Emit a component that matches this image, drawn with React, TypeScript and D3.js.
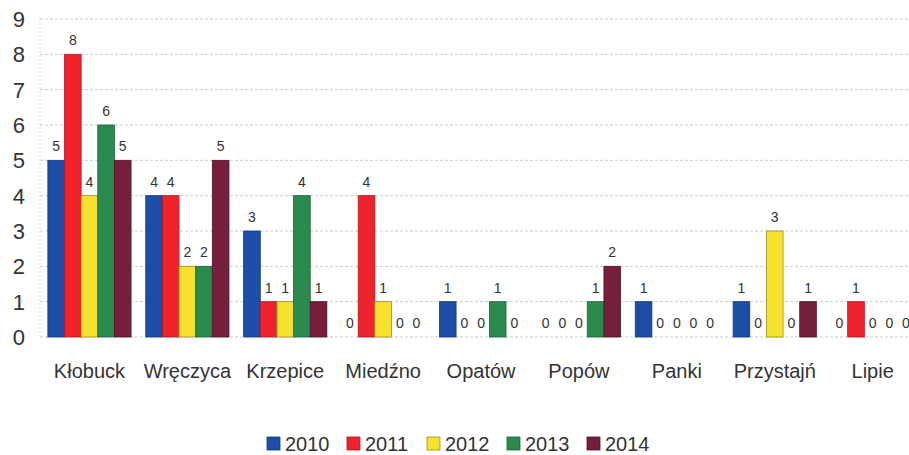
import * as d3 from 'd3';
import {useEffect, useRef} from "react";
import * as React from "react";

const categories = ["Kłobuck", "Wręczyca", "Krzepice", "Miedźno", "Opatów", "Popów", "Panki", "Przystajń", "Lipie"];
const years = ["2010", "2011", "2012", "2013", "2014"];
const colors = ["#1c4ea8", "#f0232c", "#f6e22e", "#2b8a4e", "#751f3c"];
const strokes = ["#123a80", "#b01a22", "#9c8d20", "#1d6338", "#4f1428"];

const values2010 = [5, 4, 3, 0, 1, 0, 1, 1, 0];
const values2011 = [8, 4, 1, 4, 0, 0, 0, 0, 1];
const values2012 = [4, 2, 1, 1, 0, 0, 0, 3, 0];
const values2013 = [6, 2, 4, 0, 1, 1, 0, 0, 0];
const values2014 = [5, 5, 1, 0, 0, 2, 0, 1, 0];
const yTicks = [0, 1, 2, 3, 4, 5, 6, 7, 8, 9];

const series = [values2010, values2011, values2012, values2013, values2014];

const App: React.FC = () => {
    const svgRef = useRef<SVGSVGElement | null>(null);

    useEffect(() => {
        const W = 909, H = 455;
        const svg = d3.select(svgRef.current)
            .attr("width", W)
            .attr("height", H)
            .style("font-family", "Arimo, 'Liberation Sans', Arial, sans-serif")
            .html("");

        const x0 = d3.scaleBand<string>()
            .domain(categories)
            .range([40.5, 921.6])
            .paddingInner(0.15)
            .paddingOuter(0.075);

        const x1 = d3.scaleBand<string>()
            .domain(years)
            .range([0, x0.bandwidth()]);

        const y = d3.scaleLinear()
            .domain([0, 9])
            .range([337, 19]);

        // grid
        svg.append("g")
            .selectAll("line")
            .data(yTicks)
            .enter()
            .append("line")
            .attr("x1", 40)
            .attr("x2", W)
            .attr("y1", d => y(d))
            .attr("y2", d => y(d))
            .attr("stroke", "#c8ccd4")
            .attr("stroke-dasharray", "3,2");

        svg.append("line")
            .attr("x1", 40).attr("x2", 40)
            .attr("y1", y(9)).attr("y2", y(0))
            .attr("stroke", "#d4d7dd")
            .attr("stroke-dasharray", "2,2");

        // y tick labels
        svg.append("g")
            .selectAll("text")
            .data(yTicks)
            .enter()
            .append("text")
            .attr("x", 25)
            .attr("y", d => y(d))
            .attr("dy", "0.36em")
            .attr("text-anchor", "end")
            .attr("font-size", 22)
            .attr("fill", "#333")
            .text(d => d);

        const groups = svg.append("g")
            .selectAll("g")
            .data(categories)
            .enter()
            .append("g")
            .attr("transform", d => `translate(${x0(d)},0)`);

        groups.each(function (cat, ci) {
            const g = d3.select(this);
            const rows = years.map((yr, si) => ({ yr, si, v: series[si][ci] }));
            g.selectAll("rect")
                .data(rows.filter(r => r.v > 0))
                .enter()
                .append("rect")
                .attr("x", r => x1(r.yr)!)
                .attr("y", r => y(r.v))
                .attr("width", x1.bandwidth())
                .attr("height", r => y(0) - y(r.v))
                .attr("fill", r => colors[r.si])
                .attr("stroke", r => strokes[r.si])
                .attr("stroke-width", 0.8);
            g.selectAll("text")
                .data(rows)
                .enter()
                .append("text")
                .attr("x", r => x1(r.yr)! + x1.bandwidth() / 2)
                .attr("y", r => y(r.v) - 9)
                .attr("text-anchor", "middle")
                .attr("font-size", 14)
                .attr("fill", "#333")
                .text(r => r.v);
        });

        // category labels
        svg.append("g")
            .selectAll("text")
            .data(categories)
            .enter()
            .append("text")
            .attr("x", d => x0(d)! + x0.bandwidth() / 2)
            .attr("y", 378)
            .attr("text-anchor", "middle")
            .attr("font-size", 20)
            .attr("fill", "#333")
            .text(d => d);

        // legend
        const legend = svg.append("g")
            .selectAll("g")
            .data(years)
            .enter()
            .append("g")
            .attr("transform", (_, i) => `translate(${267 + i * 80},0)`);
        legend.append("rect")
            .attr("x", 0)
            .attr("y", 437)
            .attr("width", 13)
            .attr("height", 13)
            .attr("fill", (_, i) => colors[i])
            .attr("stroke", (_, i) => strokes[i])
            .attr("stroke-width", 0.8);
        legend.append("text")
            .attr("x", 18)
            .attr("y", 451)
            .attr("font-size", 20)
            .attr("fill", "#333")
            .text(d => d);
    }, []);

    return <svg ref={svgRef} style={{ position: "absolute", left: 0, top: 0 }}></svg>;
};

export default App;
